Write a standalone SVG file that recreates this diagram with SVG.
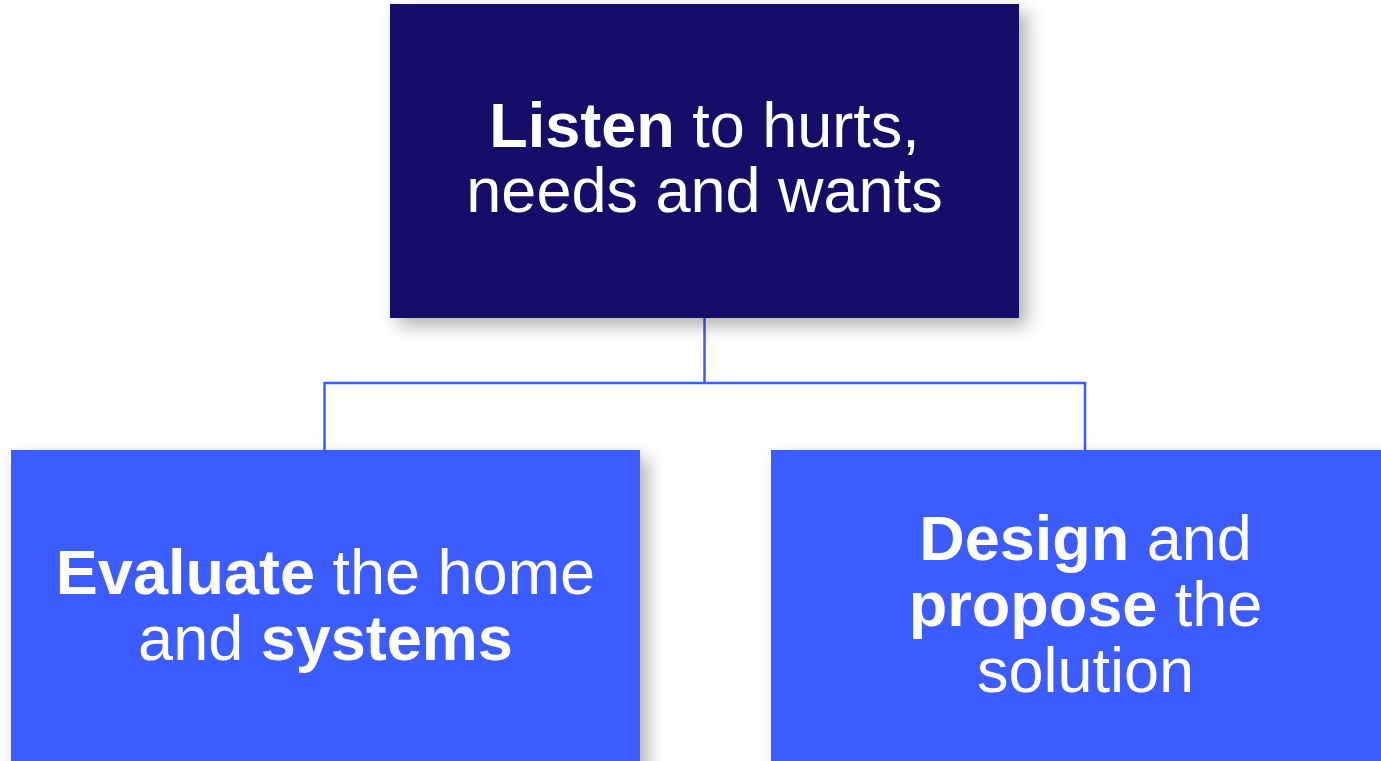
<svg xmlns="http://www.w3.org/2000/svg" width="1381" height="761" viewBox="0 0 1381 761">
  <defs>
    <filter id="shadow" x="-10%" y="-10%" width="130%" height="130%">
      <feDropShadow dx="8" dy="8" stdDeviation="9" flood-color="#000" flood-opacity="0.3"/>
    </filter>
    <style>
      .box-dark { fill: #190e67; filter: url(#shadow); }
      .box-blue { fill: #3d5bff; filter: url(#shadow); }
      .label { font-family: "Liberation Sans", Arial, sans-serif; font-size: 63px; fill: #ffffff; text-anchor: middle; }
      .b { font-weight: bold; }
      .link { fill: none; stroke: #3d5bff; stroke-width: 2.5; }
    </style>
  </defs>

  <rect width="1381" height="761" fill="#ffffff"/>

  <!-- connectors -->
  <g id="connectors">
    <path class="link" d="M704.5 318 V383"/>
    <path class="link" d="M324.5 450 V383 H1085 V450"/>
  </g>

  <!-- top node -->
  <g id="node-listen">
    <rect class="box-dark" x="390" y="4" width="629" height="314"/>
    <text class="label" x="704.5" y="147"><tspan class="b">Listen</tspan> to hurts,</text>
    <text class="label" x="704.5" y="212">needs and wants</text>
  </g>

  <!-- lower left node -->
  <g id="node-evaluate">
    <rect class="box-blue" x="11" y="450" width="629" height="320"/>
    <text class="label" x="325.5" y="594"><tspan class="b">Evaluate</tspan> the home</text>
    <text class="label" x="325.5" y="660">and <tspan class="b">systems</tspan></text>
  </g>

  <!-- lower right node -->
  <g id="node-design">
    <rect class="box-blue" x="771" y="450" width="629" height="320"/>
    <text class="label" x="1085.5" y="560"><tspan class="b">Design</tspan> and</text>
    <text class="label" x="1085.5" y="626"><tspan class="b">propose</tspan> the</text>
    <text class="label" x="1085.5" y="692">solution</text>
  </g>
</svg>
